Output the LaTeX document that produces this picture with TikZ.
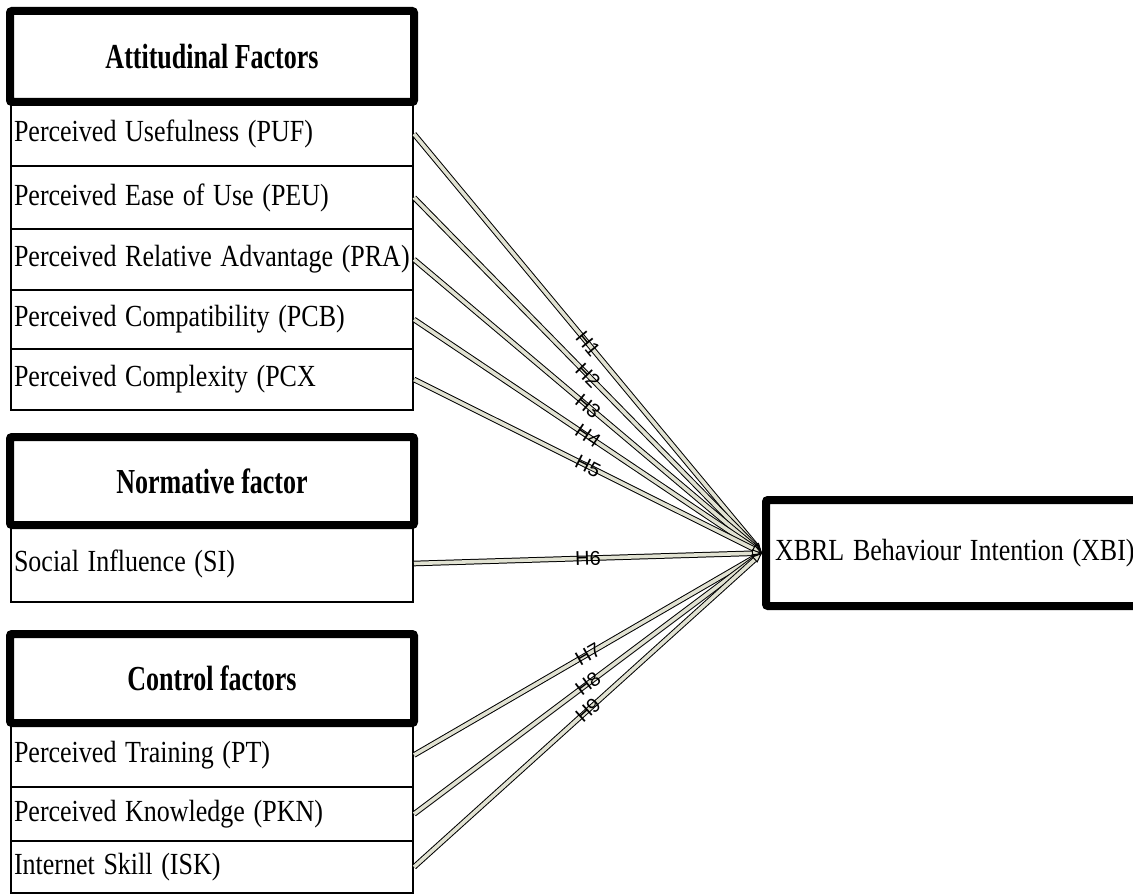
\documentclass[tikz,border=0pt]{standalone}
\usepackage{fontspec}
\usepackage{graphicx}
\setmainfont[WordSpace=0.8]{Liberation Serif}
\newfontfamily\headfont{Liberation Serif}
\newfontfamily\hypfont{Liberation Sans}
\usetikzlibrary{arrows.meta, positioning}
\definecolor{linebeige}{RGB}{225,226,210}
\newcommand{\tallt}[2][1.18]{\scalebox{1}[#1]{#2}}

\begin{document}
\begin{tikzpicture}[x=1pt,y=-1pt]
\tikzstyle{every node}+=[inner sep=0pt]
\tikzstyle{item}=[draw=black, line width=2pt, minimum height=60pt, text width=396pt, inner xsep=3pt, align=left, font=\fontsize{26}{30}\selectfont]
\tikzstyle{header}=[draw=black, line width=8pt, rounded corners=2pt, fill=white, minimum width=404pt, align=center, font=\headfont\fontsize{26}{30}\selectfont\bfseries]
\tikzstyle{hyp}=[draw=black, line width=1pt, double=linebeige, double distance=3.6pt, -{Triangle[length=10pt,width=8pt,fill=linebeige]}]
\tikzstyle{hlabel}=[midway, sloped, font=\hypfont\fontsize{20}{20}\selectfont]
\useasboundingbox (0,0) rectangle (1133,896);
\node [item, minimum height=64pt] (puf) at (212,134) {\tallt{Perceived Usefulness (PUF)}};
\node [item, minimum height=63pt] (peu) at (212,197.5) {\tallt{Perceived Ease of Use (PEU)}};
\node [item, minimum height=61pt] (pra) at (212,259.5) {\tallt{Perceived Relative Advantage (PRA)}};
\node [item, minimum height=59pt] (pcb) at (212,319.5) {\tallt{Perceived Compatibility (PCB)}};
\node [item, minimum height=61pt] (pcx) at (212,379.5) {\tallt{Perceived Complexity (PCX}};
\node [header, minimum height=91pt] (att) at (212,56.5) {\tallt[1.35]{Attitudinal Factors}};
\node [item, minimum height=77pt] (si) at (212,563.5) {\tallt{Social Influence (SI)}};
\node [header, minimum height=88pt] (norm) at (212,481) {\tallt[1.35]{Normative factor}};
\node [item, minimum height=64pt] (pt) at (212,755) {\tallt{Perceived Training (PT)}};
\node [item, minimum height=54pt] (pkn) at (212,814) {\tallt{Perceived Knowledge (PKN)}};
\node [item, minimum height=52pt] (isk) at (212,867) {\tallt{Internet Skill (ISK)}};
\node [header, minimum height=89pt] (ctrl) at (212,678.5) {\tallt[1.35]{Control factors}};
\node [draw=black, line width=8pt, rounded corners=2pt, minimum height=106pt, text width=382pt, inner xsep=9pt, align=left, font=\fontsize{26}{30}\selectfont] (xbi) at (966,553) {\tallt{XBRL Behaviour Intention (XBI)}};
\draw [hyp] (puf.east) -- (xbi.west) node [hlabel] {H1};
\draw [hyp] (peu.east) -- (xbi.west) node [hlabel] {H2};
\draw [hyp] (pra.east) -- (xbi.west) node [hlabel] {H3};
\draw [hyp] (pcb.east) -- (xbi.west) node [hlabel] {H4};
\draw [hyp] (pcx.east) -- (xbi.west) node [hlabel] {H5};
\draw [hyp] (si.east) -- (xbi.west) node [hlabel] {H6};
\draw [hyp] (pt.east) -- (xbi.west) node [hlabel] {H7};
\draw [hyp] (pkn.east) -- (xbi.west) node [hlabel] {H8};
\draw [hyp] (isk.east) -- (xbi.west) node [hlabel] {H9};
\end{tikzpicture}
\end{document}
